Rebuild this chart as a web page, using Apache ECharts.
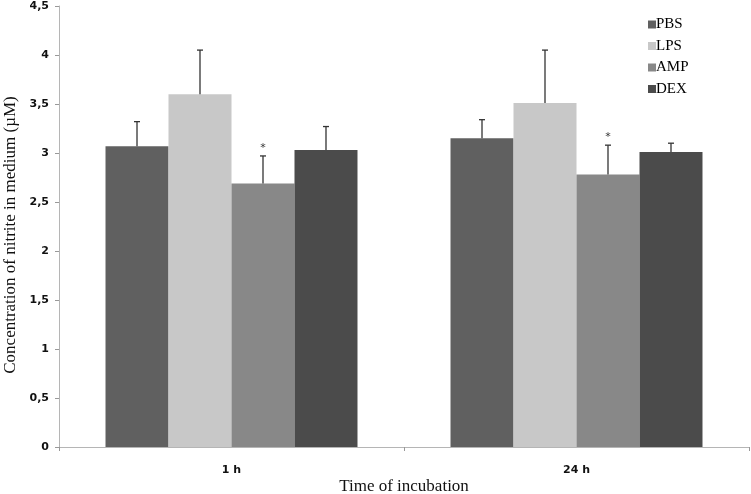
<!DOCTYPE html>
<html>
<head>
<meta charset="utf-8">
<script src="https://cdn.jsdelivr.net/npm/echarts@6/dist/echarts.min.js"></script>
<style>html,body{margin:0;padding:0;background:#fff}#c{width:751px;height:494px}</style>
</head>
<body>
<div id="c"></div>
<script>
var categories = ['1 h', '24 h'];
var seriesNames = ['PBS', 'LPS', 'AMP', 'DEX'];
var PBS = [3.07, 3.15];
var LPS = [3.60, 3.51];
var AMP = [2.69, 2.78];
var DEX = [3.03, 3.01];
var PBS_err = [0.25, 0.19];
var LPS_err = [0.45, 0.54];
var AMP_err = [0.28, 0.30];
var DEX_err = [0.24, 0.09];
var AMP_sig = ['*', '*'];
var yTicks = [0, 0.5, 1, 1.5, 2, 2.5, 3, 3.5, 4, 4.5];

var colors = ['#606060', '#c8c8c8', '#888888', '#4b4b4b'];
var means = [PBS, LPS, AMP, DEX];
var errs = [PBS_err, LPS_err, AMP_err, DEX_err];
var sigs = [null, null, AMP_sig, null];
var BAR_FRAC = 0.1826;

var errData = [];
for (var s = 0; s < 4; s++) {
  for (var c = 0; c < categories.length; c++) {
    errData.push([c, s, means[s][c], means[s][c] + errs[s][c], sigs[s] ? sigs[s][c] : '']);
  }
}

var serif = '"Liberation Serif", "DejaVu Serif", serif';
var sans = '"DejaVu Sans", Verdana, sans-serif';

var series = seriesNames.map(function (n, i) {
  return {
    name: n, type: 'bar', data: means[i], barWidth: (BAR_FRAC * 100) + '%', barGap: '0%',
    itemStyle: { color: colors[i] }, z: 2
  };
});
series.push({
  type: 'custom', name: 'err', z: 5, silent: true,
  data: errData,
  renderItem: function (params, api) {
    var c = api.value(0), s = api.value(1);
    var band = api.size([1, 0])[0];
    var base = api.coord([c, api.value(2)]);
    var top = api.coord([c, api.value(3)]);
    var x = base[0] + (s - 1.5) * band * BAR_FRAC;
    var children = [
      { type: 'line', shape: { x1: x, y1: base[1], x2: x, y2: top[1] }, style: { stroke: '#333', lineWidth: 1.3 } },
      { type: 'line', shape: { x1: x - 3, y1: top[1], x2: x + 3, y2: top[1] }, style: { stroke: '#333', lineWidth: 1.3 } }
    ];
    var sig = api.value(4);
    if (sig) {
      children.push({ type: 'text', style: { text: sig, x: x, y: top[1] - 8, align: 'center', verticalAlign: 'middle', fill: '#333', font: '11px ' + sans } });
    }
    return { type: 'group', children: children };
  }
});

var chart = echarts.init(document.getElementById('c'), null, { renderer: 'canvas' });
chart.setOption({
  animation: false,
  backgroundColor: '#fff',
  grid: { left: 59, right: 2, top: 6, bottom: 47, containLabel: false },
  legend: {
    data: seriesNames, orient: 'vertical', left: 643, top: 12,
    icon: 'rect', itemWidth: 8, itemHeight: 8, itemGap: 6.5,
    textStyle: { fontFamily: serif, fontSize: 15, color: '#000', lineHeight: 15, padding: [0, 0, 0, -5] }
  },
  xAxis: {
    type: 'category', data: categories,
    axisLine: { lineStyle: { color: '#b5b5b5', width: 1 } },
    axisTick: { show: true, length: 4, lineStyle: { color: '#999' } },
    axisLabel: { fontFamily: sans, fontWeight: 'bold', fontSize: 11, color: '#111', margin: 18 }
  },
  yAxis: {
    type: 'value', min: 0, max: 4.5, interval: 0.5,
    splitLine: { show: false },
    axisLine: { show: true, lineStyle: { color: '#b5b5b5', width: 1 } },
    axisTick: { show: true, length: 4, lineStyle: { color: '#999' } },
    axisLabel: { fontFamily: sans, fontWeight: 'bold', fontSize: 11, color: '#111', margin: 10,
      formatter: function (v) { return yTicks.indexOf(v) >= 0 ? String(v).replace('.', ',') : ''; } }
  },
  graphic: [
    { type: 'text', x: 11, y: 235, rotation: Math.PI / 2, style: { text: 'Concentration of nitrite in medium (µM)', font: '17px ' + serif, fill: '#111', align: 'center', verticalAlign: 'middle' } },
    { type: 'text', x: 404, y: 487, style: { text: 'Time of incubation', font: '17px ' + serif, fill: '#111', align: 'center', verticalAlign: 'middle' } }
  ],
  series: series
});
</script>
</body>
</html>
